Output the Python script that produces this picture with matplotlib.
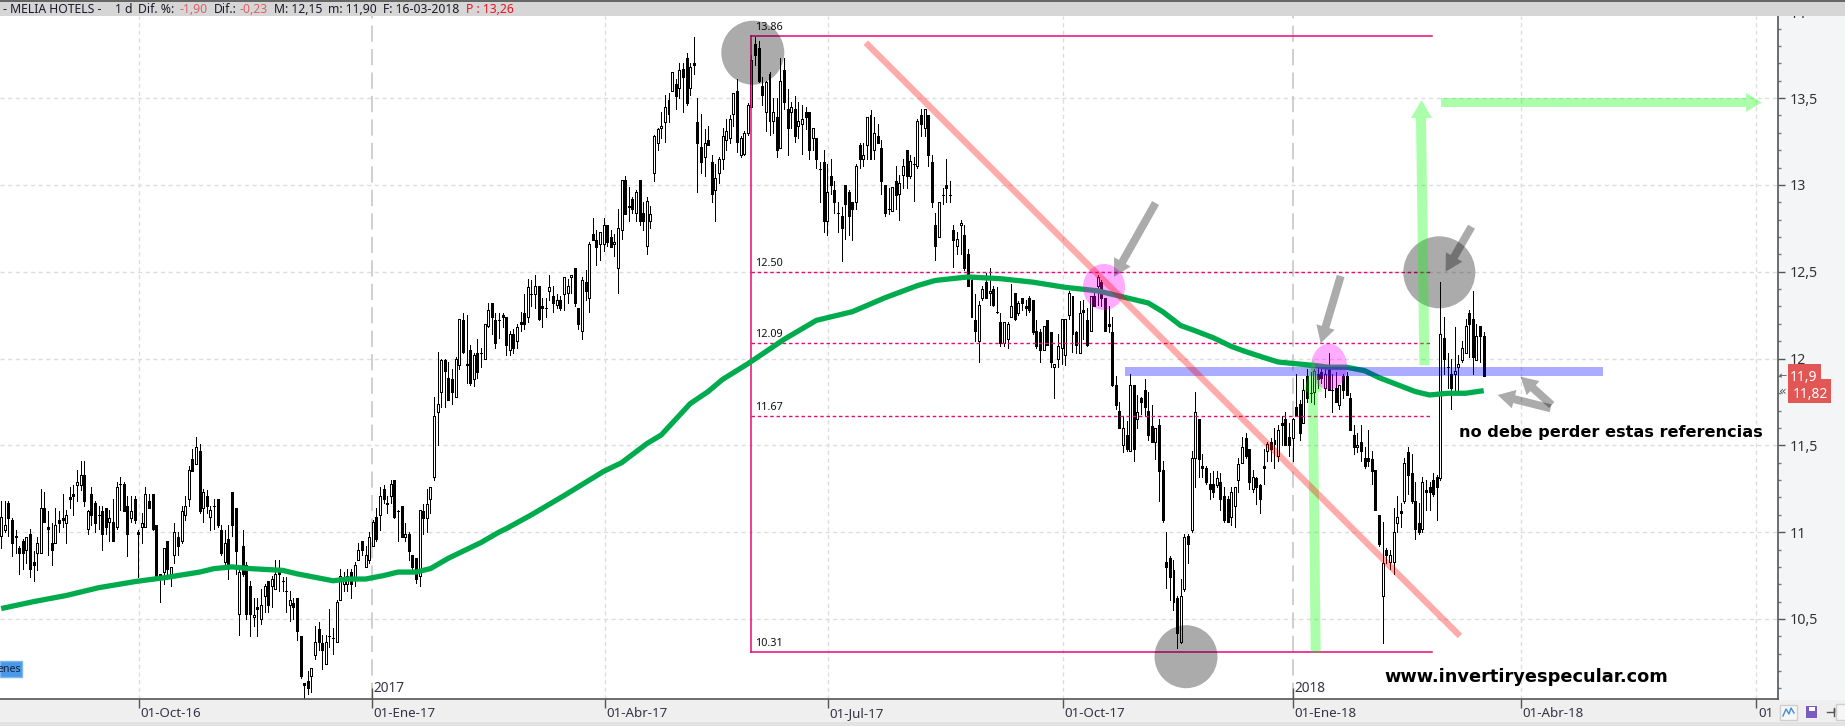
import numpy as np
import matplotlib
matplotlib.use('Agg')
import matplotlib.pyplot as plt
from matplotlib.patches import Rectangle, Ellipse, Polygon, FancyArrow
from matplotlib.transforms import ScaledTranslation

plt.rcParams['font.family'] = ['Noto Sans', 'DejaVu Sans']

# daily candles
highs = [11.18,11.18,11.18,11.08,11.01,10.92,10.96,10.97,11.02,10.89,
10.97,11.25,11.23,11.12,11.05,11.14,11.12,11.22,11.13,11.26,
11.27,11.36,11.41,11.41,11.13,11.26,11.18,11.15,11.15,11.14,
11.13,11.19,11.29,11.32,11.29,11.21,11.21,11.21,11.01,11.11,
11.26,11.22,11.22,11.04,10.76,10.91,10.95,10.80,11.05,11.00,
11.15,11.21,11.38,11.48,11.55,11.51,11.25,11.24,11.15,11.19,
11.19,11.04,11.01,11.04,11.23,11.14,10.78,11.01,10.83,10.72,
10.62,10.62,10.67,10.70,10.72,10.75,10.84,10.84,10.74,10.74,
10.66,10.62,10.62,10.40,10.13,10.20,10.22,10.46,10.48,10.41,
10.41,10.56,10.45,10.61,10.79,10.77,10.79,10.79,10.83,10.94,
10.95,10.92,11.00,11.07,11.14,11.26,11.27,11.21,11.30,11.30,
11.13,11.15,11.05,11.00,10.87,10.85,11.13,11.16,11.25,11.26,
11.78,12.04,12.00,12.00,11.98,11.94,12.01,12.23,12.26,12.25,
12.08,12.03,12.11,12.06,12.20,12.32,12.32,12.26,12.26,12.26,
12.24,12.16,12.17,12.20,12.27,12.37,12.46,12.45,12.48,12.42,
12.35,12.35,12.48,12.42,12.37,12.36,12.47,12.46,12.48,12.52,
12.29,12.47,12.51,12.67,12.81,12.74,12.73,12.81,12.77,12.74,
12.72,12.86,13.03,13.05,12.99,12.93,12.97,13.03,12.90,12.93,
12.88,13.29,13.33,13.42,13.52,13.53,13.65,13.61,13.70,13.70,
13.76,13.70,13.85,13.50,13.41,13.32,13.34,13.17,13.12,13.16,
13.33,13.38,13.40,13.53,13.61,13.28,13.31,13.47,
13.75,13.85,13.83,13.62,13.60,13.65,13.50,13.50,13.73,13.73,13.55,13.48,
13.51,13.48,13.46,13.45,13.42,13.33,13.27,13.13,13.20,13.12,
13.15,13.02,12.90,12.87,13.00,12.97,12.90,13.12,13.24,13.24,
13.39,13.43,13.39,13.35,13.26,13.00,12.98,12.99,13.11,13.06,
13.15,13.20,13.17,13.16,13.38,13.44,13.44,13.40,13.17,12.84,
12.90,12.98,13.15,13.02,12.77,12.73,12.80,12.77,12.63,12.46,
12.37,12.33,12.42,12.49,12.52,12.42,12.41,12.26,12.21,12.21,
12.43,12.38,12.33,12.35,12.34,12.36,12.34,12.22,12.17,12.19,
12.22,12.15,11.97,12.14,12.23,12.23,12.39,12.36,12.16,12.33,
12.34,12.29,12.36,12.38,12.48,12.45,12.35,12.30,12.24,11.90,
11.75,11.67,11.64,11.91,11.85,11.79,11.78,11.88,11.81,11.73,
11.60,11.65,11.41,11.00,10.86,10.84,10.63,10.73,10.99,10.99,
11.47,11.81,11.65,11.45,11.38,11.34,11.35,11.35,11.34,11.26,
11.21,11.26,11.26,11.43,11.55,11.57,11.48,11.36,11.32,11.28,
11.48,11.52,11.54,11.60,11.62,11.67,11.69,11.63,11.66,11.91,
11.76,11.88,11.94,11.92,11.94,11.95,11.95,11.95,12.03,11.91,
11.92,11.85,11.91,11.92,11.80,11.62,11.57,11.62,11.49,11.59,
11.47,11.36,11.10,11.06,10.91,10.90,11.14,11.21,11.17,11.43,
11.49,11.45,11.29,11.17,11.32,11.30,11.29,11.34,11.33,12.44,
12.24,12.03,12.00,12.18,12.02,12.10,12.23,12.28,12.39,12.20,12.19,12.15]

body_hi = [11.09,11.04,11.17,11.07,10.98,10.91,10.95,10.97,10.99,10.83,
10.94,11.14,11.14,11.03,10.94,11.04,11.07,11.08,11.10,11.20,
11.22,11.29,11.33,11.33,11.12,11.22,11.17,11.10,11.12,11.14,
11.08,11.06,11.26,11.28,11.28,11.15,11.12,11.19,11.00,11.05,
11.22,11.18,11.22,11.04,10.76,10.91,10.95,10.80,11.00,10.97,
11.12,11.15,11.36,11.42,11.49,11.47,11.23,11.21,11.13,11.15,
11.19,11.01,10.94,10.96,11.23,11.14,10.77,10.92,10.81,10.69,
10.52,10.57,10.58,10.69,10.72,10.73,10.76,10.77,10.72,10.66,
10.61,10.59,10.62,10.40,10.13,10.14,10.22,10.37,10.44,10.36,
10.37,10.40,10.39,10.60,10.75,10.72,10.75,10.77,10.81,10.90,
10.95,10.87,10.97,11.06,11.09,11.21,11.25,11.17,11.28,11.30,
11.12,11.15,10.99,10.99,10.87,10.85,11.13,11.12,11.16,11.26,
11.67,11.74,11.99,11.99,11.89,11.88,12.00,12.23,12.22,11.97,
12.05,12.02,12.03,12.03,12.20,12.28,12.32,12.22,12.22,12.25,
12.24,12.14,12.14,12.18,12.21,12.26,12.41,12.37,12.42,12.42,
12.30,12.29,12.41,12.36,12.34,12.34,12.47,12.42,12.48,12.52,
12.29,12.45,12.44,12.66,12.72,12.68,12.73,12.77,12.77,12.70,
12.67,12.75,13.03,13.03,12.88,12.92,12.96,13.03,12.84,12.91,
12.83,13.28,13.32,13.34,13.45,13.49,13.65,13.58,13.66,13.67,
13.73,13.68,13.70,13.36,13.22,13.24,13.26,13.13,13.04,13.15,
13.28,13.31,13.38,13.53,13.54,13.27,13.30,13.46,
13.72,13.81,13.79,13.57,13.59,13.64,13.42,13.39,13.60,13.66,13.44,13.45,
13.44,13.37,13.38,13.42,13.42,13.33,13.27,13.09,13.13,12.96,
13.05,12.97,12.84,12.82,13.00,12.96,12.90,13.11,13.23,13.17,
13.39,13.40,13.30,13.28,13.21,13.00,12.86,12.99,13.02,13.01,
13.11,13.20,13.14,13.12,13.37,13.40,13.44,13.40,13.13,12.77,
12.90,12.94,13.00,12.94,12.74,12.69,12.78,12.71,12.60,12.45,
12.22,12.31,12.40,12.44,12.39,12.40,12.27,12.21,12.21,12.20,
12.30,12.38,12.32,12.35,12.30,12.35,12.34,12.16,12.15,12.19,
12.22,12.15,11.97,12.07,12.23,12.23,12.38,12.36,12.15,12.26,
12.28,12.22,12.36,12.36,12.47,12.44,12.35,12.20,12.15,11.85,
11.70,11.60,11.56,11.85,11.85,11.69,11.77,11.82,11.70,11.61,
11.60,11.62,11.36,10.83,10.85,10.78,10.62,10.63,10.97,10.98,
11.43,11.69,11.65,11.38,11.37,11.28,11.28,11.31,11.29,11.21,
11.19,11.23,11.26,11.39,11.49,11.54,11.48,11.32,11.31,11.27,
11.38,11.51,11.52,11.53,11.59,11.63,11.65,11.55,11.65,11.72,
11.74,11.82,11.90,11.80,11.93,11.91,11.92,11.91,11.95,11.82,
11.83,11.85,11.90,11.90,11.77,11.56,11.50,11.52,11.43,11.43,
11.42,11.36,11.10,10.82,10.90,10.87,11.00,11.09,11.12,11.40,
11.46,11.34,11.18,11.05,11.29,11.24,11.26,11.30,11.32,12.14,
12.12,11.95,11.91,11.93,11.97,12.06,12.19,12.26,12.23,12.13,12.19,12.13]

body_lo = [10.98,11.01,11.08,10.94,10.97,10.88,10.88,10.90,10.79,10.81,
10.88,10.88,11.06,11.02,10.90,10.94,11.05,11.07,11.05,11.19,
11.21,11.27,11.27,11.18,11.02,11.10,11.05,11.10,10.99,11.03,
11.06,10.95,11.03,11.28,11.12,10.99,11.08,11.07,10.99,11.03,
11.03,11.14,11.02,10.75,10.75,10.77,10.79,10.76,10.87,10.92,
10.95,11.10,11.19,11.35,11.39,11.12,11.14,11.15,11.09,11.15,
11.04,10.88,10.83,10.81,11.04,10.89,10.53,10.76,10.53,10.53,
10.51,10.56,10.50,10.63,10.58,10.69,10.67,10.76,10.72,10.66,
10.58,10.57,10.43,10.17,10.12,10.10,10.17,10.29,10.37,10.32,
10.24,10.40,10.39,10.37,10.61,10.70,10.70,10.70,10.74,10.84,
10.90,10.80,10.84,10.92,10.96,11.10,11.19,11.16,11.21,11.09,
11.12,10.97,10.97,10.89,10.80,10.73,10.75,11.08,11.08,11.19,
11.32,11.69,11.81,11.93,11.76,11.81,11.78,11.96,12.04,11.96,
11.86,11.88,11.92,12.03,12.00,12.19,12.24,12.09,12.22,12.24,
12.08,12.05,12.06,12.10,12.20,12.20,12.24,12.37,12.37,12.23,
12.29,12.29,12.39,12.32,12.31,12.29,12.37,12.38,12.47,12.32,
12.20,12.16,12.39,12.35,12.68,12.64,12.66,12.66,12.67,12.64,
12.66,12.52,12.74,12.83,12.87,12.86,12.84,12.79,12.79,12.65,
12.79,13.07,13.24,13.33,13.36,13.41,13.54,13.51,13.56,13.62,
13.47,13.56,13.69,13.24,13.13,13.16,13.23,12.95,12.97,13.07,
13.15,13.26,13.27,13.41,13.25,13.17,13.18,13.30,
13.45,13.75,13.60,13.52,13.42,13.37,13.37,13.20,13.21,13.48,13.33,13.42,
13.28,13.34,13.35,13.39,13.20,13.27,13.15,13.09,12.79,12.79,
13.00,12.90,12.84,12.75,12.89,12.82,12.86,12.90,13.15,13.15,
13.23,13.15,13.20,13.24,13.02,12.84,12.86,12.85,12.94,12.95,
13.06,13.05,13.05,13.12,13.11,13.35,13.33,13.17,12.90,12.65,
12.70,12.94,12.98,12.94,12.68,12.65,12.77,12.52,12.42,12.24,
12.16,12.10,12.35,12.35,12.38,12.31,12.27,12.09,12.09,12.11,
12.24,12.23,12.26,12.32,12.29,12.28,12.15,12.07,12.05,12.05,
12.08,11.98,11.95,12.00,12.06,12.02,12.25,12.14,12.08,12.03,
12.27,12.08,12.16,12.30,12.42,12.35,12.16,12.19,11.85,11.73,
11.60,11.50,11.48,11.47,11.48,11.65,11.75,11.72,11.56,11.52,
11.52,11.35,11.07,10.80,10.74,10.60,10.42,10.37,10.67,10.93,
11.01,11.43,11.42,11.37,11.29,11.25,11.23,11.27,11.19,11.07,
11.06,11.09,11.15,11.30,11.40,11.44,11.29,11.25,11.26,11.19,
11.37,11.47,11.48,11.51,11.44,11.62,11.50,11.50,11.54,11.67,
11.57,11.63,11.77,11.80,11.81,11.88,11.89,11.83,11.82,11.82,
11.75,11.73,11.82,11.79,11.59,11.49,11.49,11.47,11.38,11.41,
11.35,11.13,10.93,10.63,10.87,10.83,10.83,11.05,11.11,11.18,
11.33,11.18,11.02,11.00,11.02,11.23,11.23,11.22,11.26,11.31,
12.00,11.95,11.83,11.91,11.95,11.99,12.03,12.20,12.01,11.99,12.13,11.90]

lows = [10.91,11.00,10.98,10.86,10.88,10.76,10.79,10.82,10.74,10.72,
10.78,10.88,11.06,10.87,10.81,10.94,11.00,11.03,10.94,11.14,
11.10,11.18,11.24,11.15,10.99,11.04,11.00,11.02,10.90,10.99,
10.95,10.95,11.02,11.13,11.12,10.86,11.06,11.05,10.74,10.94,
11.03,11.14,11.01,10.74,10.60,10.70,10.73,10.69,10.82,10.87,
10.94,11.07,11.15,11.35,11.39,11.11,11.06,11.11,11.01,11.02,
11.03,10.87,10.81,10.73,10.98,10.76,10.41,10.75,10.50,10.40,
10.46,10.40,10.47,10.54,10.54,10.57,10.67,10.66,10.66,10.54,
10.49,10.50,10.38,10.16,10.04,10.07,10.08,10.27,10.32,10.21,
10.24,10.34,10.30,10.37,10.61,10.66,10.66,10.62,10.69,10.84,
10.87,10.80,10.82,10.92,10.95,11.01,11.17,11.11,11.17,11.08,
10.95,10.97,10.95,10.84,10.79,10.71,10.69,10.99,11.00,11.11,
11.30,11.50,11.72,11.72,11.76,11.74,11.78,11.94,12.03,11.86,
11.85,11.84,11.89,11.95,12.00,12.18,12.14,12.06,12.12,12.18,
12.02,12.02,12.03,12.06,12.16,12.17,12.21,12.30,12.29,12.22,
12.18,12.24,12.34,12.27,12.29,12.28,12.28,12.32,12.38,12.30,
12.17,12.11,12.34,12.27,12.68,12.54,12.57,12.62,12.65,12.64,
12.59,12.38,12.69,12.83,12.79,12.84,12.79,12.77,12.74,12.60,
12.75,13.02,13.20,13.27,13.25,13.36,13.54,13.44,13.50,13.42,
13.46,13.52,13.64,12.96,13.07,13.05,13.23,12.90,12.79,13.01,
13.09,13.20,13.24,13.34,13.19,13.16,13.17,13.29,
13.45,13.69,13.59,13.46,13.31,13.29,13.30,13.16,13.21,13.44,13.17,13.33,
13.25,13.27,13.18,13.32,13.15,13.20,13.10,12.90,12.73,12.71,
12.95,12.84,12.73,12.56,12.69,12.71,12.68,12.86,13.10,13.11,
13.15,13.15,13.15,13.24,12.95,12.82,12.83,12.85,12.86,12.80,
12.98,12.98,13.04,12.91,13.10,13.28,13.28,13.11,12.87,12.57,
12.70,12.89,12.90,12.90,12.53,12.60,12.60,12.51,12.42,12.24,
12.10,11.98,12.34,12.35,12.31,12.30,12.26,12.07,12.07,12.06,
12.24,12.22,12.25,12.28,12.25,12.27,12.14,12.06,11.98,12.05,
12.08,11.95,11.77,11.95,11.97,11.96,12.23,12.04,12.03,12.03,
12.11,12.07,12.16,12.30,12.31,12.30,12.16,12.15,11.84,11.71,
11.60,11.46,11.47,11.47,11.41,11.60,11.68,11.67,11.53,11.52,
11.42,11.18,11.06,10.68,10.61,10.55,10.33,10.36,10.66,10.82,
11.00,11.26,11.32,11.32,11.28,11.19,11.20,11.26,11.13,11.06,
11.06,11.04,11.03,11.23,11.40,11.43,11.25,11.23,11.16,11.11,
11.28,11.41,11.41,11.37,11.41,11.50,11.50,11.44,11.41,11.67,
11.53,11.63,11.75,11.75,11.74,11.83,11.86,11.78,11.82,11.69,
11.75,11.71,11.77,11.79,11.59,11.45,11.46,11.41,11.37,11.38,
11.28,11.13,10.92,10.36,10.82,10.79,10.76,11.00,11.03,11.17,
11.22,11.17,10.96,10.99,11.00,11.13,11.13,11.21,11.07,11.30,
11.91,11.83,11.71,11.80,11.81,11.98,12.03,12.01,11.91,11.99,11.98,11.90]

# W = hollow (up day), K = black (down day)
day_type = ("WWKKWKKWKK" "WWKKKWKKWK" "KWWKWKKKKK" "WKWKKKWKKW" "WKKKKWKWWK"
            "WWWKWKWKWK" "KKWKKKWKKK" "WKWWKWWKKK" "WKKKKKWWKK" "WWKWWWWKWW"
            "KWWWKWKKWK" "KKWKKKWKWW" "WWWKKKWWKK" "KWKKWWKKKK" "KWKWKKWKWK"
            "KKWKWKWWWK" "KWKWKKWWKK" "WWWKWKWKKW" "WWWWWWWKWK" "KWKKKWKKWW"
            "WWWWKWWW" "WKKKWKWKWKKW" "KWWKKWKKKW" "KKKKKKKWKW" "WKWKKKKWKW"
            "WKWKWKWKKK" "WKKKKWWKKK" "KWWKWKKKWW" "WKWKKKKKKW" "KKWWWWWKKW"
            "KKWKWKKKKK" "KWKWKWKKKK" "WKKKKKKWWK" "WWKKKKKWKK" "KWWWWKKWKK"
            "KWKWWKKKWK" "KWKKWKKWKK" "KWKKKKWKKK" "KKKWKWWWKW" "KKKKWKKKKW"
            "KKKWWWWKKWKK")

# moving average, read at the bars listed
ma_bars = [1,10,19,28,38,47,56,60,65,70,79,83,88,93,97,102,107,111,116,120,125,130,134,139,
           141,148,157,168,173,180,184,188,192,197,201,208,218,227,237,246,255,260,269,278,
           287,296,305,311,319,323,328,332,337,342,346,351,355,360,365,369,374,379,383,388,
           393,397,402,407,412]
ma_values = [10.56,10.60,10.635,10.68,10.715,10.74,10.77,10.79,10.80,10.79,10.78,10.76,10.74,10.72,
             10.73,10.73,10.75,10.77,10.77,10.79,10.85,10.90,10.94,11.0,
             11.02,11.10,11.21,11.35,11.40,11.51,11.56,11.65,11.74,11.81,11.88,11.97,12.11,12.22,
             12.27,12.35,12.42,12.45,12.47,12.46,12.44,12.41,12.39,12.36,12.32,
             12.27,12.19,12.16,12.12,12.07,12.04,12.006,11.98,11.97,11.96,11.95,11.95,11.93,11.89,
             11.85,11.81,11.79,11.80,11.80,11.815]

fib_levels = [12.50, 12.09, 11.67]
fib_top = 13.86
fib_bottom = 10.31
fib_start = 208.9
fib_end = 397.7

x_tick_bars = [39.3, 103.7, 168.3, 230.3, 295.4, 359, 422.3, 487.6]
x_tick_labels = ['01-Oct-16', '01-Ene-17', '01-Abr-17', '01-Jul-17', '01-Oct-17', '01-Ene-18', '01-Abr-18', '01']
year_bars = [103.7, 359]
year_labels = ['2017', '2018']
y_major = [10.5, 11, 11.5, 12, 12.5, 13, 13.5]

W, H = 1845, 726
fig = plt.figure(figsize=(W/100, H/100), dpi=100)

# window furniture behind the chart
bg = fig.add_axes([0, 0, 1, 1], zorder=0)
bg.set_xlim(0, W)
bg.set_ylim(H, 0)
bg.axis('off')
bg.add_patch(Rectangle((0, 0), W, H, fc='#efefef', lw=0))
bg.add_patch(Rectangle((1778, 16), W-1778, 684, fc='#f4f5f7', lw=0))
bg.add_patch(Rectangle((0, 722), W, 4, fc='#e2e2e2', lw=0))

ax = fig.add_axes([0, 27/H, 1778.4/W, 683/H], zorder=1)
ax.set_facecolor('white')

idx = np.arange(1, len(highs)+1)
hi = np.array(highs)
lo = np.array(lows)
top = np.array(body_hi)
bot = np.array(body_lo)
hollow = np.array([c == 'W' for c in day_type])

# grid
for y in y_major:
    ax.axhline(y, color='#dddddd', lw=1, dashes=(3, 2.5), zorder=1)
for x in x_tick_bars:
    if x in year_bars:
        ax.axvline(x, color='#cccccc', lw=1.3, dashes=(9, 4), zorder=1)
    else:
        ax.axvline(x, color='#dddddd', lw=1, dashes=(3, 2.5), zorder=1)

ax.vlines(idx, lo, hi, color='black', lw=0.7, zorder=2, antialiased=False)
ax.bar(idx[~hollow], (top-bot)[~hollow], bottom=bot[~hollow], width=0.55, color='black',
       edgecolor='black', lw=0.5, zorder=3, antialiased=False)
ax.bar(idx[hollow], (top-bot)[hollow], bottom=bot[hollow], width=0.55, color='white',
       edgecolor='black', lw=0.5, zorder=3, antialiased=False)

# fibonacci box
pink = '#e8087c'
ax.plot([fib_start, fib_start], [fib_bottom, fib_top], color=pink, lw=1.1, zorder=4)
ax.plot([fib_start, fib_end], [fib_top, fib_top], color=pink, lw=1.1, zorder=4)
ax.plot([fib_start, fib_end], [fib_bottom, fib_bottom], color=pink, lw=1.1, zorder=4)
for lv in fib_levels:
    ax.plot([fib_start, fib_end], [lv, lv], color=pink, lw=1, dashes=(2.5, 2), zorder=4)
for lv in [fib_top] + fib_levels + [fib_bottom]:
    ax.annotate('%.2f' % lv, (fib_start, lv), xytext=(3, 2), textcoords='offset points',
                fontsize=7.8, color='#111111', va='bottom', zorder=6)

ax.plot(ma_bars, ma_values, color='#00ab4e', lw=3.8, zorder=5, solid_capstyle='butt')

# axes
for s in ['top', 'left']:
    ax.spines[s].set_visible(False)
for s in ['bottom', 'right']:
    ax.spines[s].set_color('#555555')
    ax.spines[s].set_linewidth(1.2)
ax.yaxis.tick_right()
ax.set_yticks(y_major)
ax.set_yticklabels([('%g' % v).replace('.', ',') for v in y_major], fontsize=10.2, color='#333333')
ax.set_yticks(np.arange(10.1, 14.0, 0.1), minor=True)
ax.tick_params(axis='y', which='major', length=5, width=1, color='#555555', pad=3)
ax.tick_params(axis='y', which='minor', length=2.2, width=1, color='#777777')
ax.set_xticks(x_tick_bars)
ax.set_xticklabels(x_tick_labels, fontsize=9.6, color='#333344', ha='left')
ax.tick_params(axis='x', length=6.5, width=1, color='#555555', pad=-0.5)
for t in ax.get_xticklabels():
    t.set_transform(t.get_transform() + ScaledTranslation(1.5/100, 0, fig.dpi_scale_trans))
ax.set_xlim(0.667, 493.7)
ax.set_ylim(10.039, 13.973)
# 14 sits mostly under the top bar
ax.annotate('14', (1, 14), xycoords=('axes fraction', 'data'), xytext=(8, -2.5), textcoords='offset points',
            fontsize=10.2, color='#333333', va='center', annotation_clip=False)
for x, s in zip(year_bars, year_labels):
    ax.vlines(x, 10.039, 10.10, color='#555555', lw=1, zorder=6)
    ax.annotate(s, (x, 10.10), xytext=(1.5, 0), textcoords='offset points', fontsize=9.8,
                color='#333344', va='center', zorder=6, annotation_clip=False)

# hand drawn marks and window bars, in screen pixels
ov = fig.add_axes([0, 0, 1, 1], zorder=2)
ov.set_xlim(0, W)
ov.set_ylim(H, 0)
ov.axis('off')
ov.patch.set_alpha(0)

A = 0.33
for cx, cy, w, h in [(752.8, 52.7, 63, 64), (1186, 656.7, 63, 63), (1439.3, 272.3, 72, 72)]:
    ov.add_patch(Ellipse((cx, cy), w, h, fc='black', alpha=A, lw=0))
for cx, cy, w, h in [(1104, 287, 42, 46), (1329, 366.7, 36, 46)]:
    ov.add_patch(Ellipse((cx, cy), w, h, fc='#ff00ff', alpha=A, lw=0))
ov.plot([865.8, 1460], [42.7, 636], color='#ff0000', alpha=A, lw=4.6, solid_capstyle='butt')
ov.add_patch(Rectangle((1125.3, 366.7), 477.4, 9, fc='#0000ff', alpha=A, lw=0))
for pts in [[(1310.7, 652.7), (1320.7, 652.7), (1317.7, 391.7), (1322.5, 391.7), (1313, 358),
             (1304, 391.7), (1308, 391.7)],
            [(1419.4, 365.3), (1429.4, 365.3), (1426, 118), (1432, 118), (1421.5, 100), (1411, 118), (1416, 118)],
            [(1441, 98), (1746, 98), (1746, 93), (1762, 102.5), (1746, 112), (1746, 107), (1441, 107)]]:
    ov.add_patch(Polygon(pts, fc='#00ff00', alpha=A, lw=0))
for x0, y0, x1, y1 in [(1155.6, 203, 1114, 276.7), (1340.7, 276, 1320.7, 343.3), (1471.5, 226.7, 1445.6, 271.7),
                       (1551.7, 405, 1520.5, 376.7), (1550.6, 408.3, 1497.7, 395)]:
    ov.add_patch(FancyArrow(x0, y0, x1-x0, y1-y0, width=8, head_width=19, head_length=17,
                            length_includes_head=True, fc='black', alpha=A, lw=0))

ov.text(1458.8, 432.3, 'no debe perder estas referencias', fontsize=11.6, fontweight='bold',
        family='DejaVu Sans', color='black', va='center')
ov.text(1384, 677, 'www.invertiryespecular.com', fontsize=12.8, fontweight='bold',
        family='DejaVu Sans', color='black', va='center')

# top bar
ov.add_patch(Rectangle((0, 0), W, 16, fc='#d6d6d6', lw=0))
ov.add_patch(Rectangle((0, 0), W, 1.5, fc='#666666', lw=0))
dark = '#1a1a2a'
for x, s, c in [(3, '- MELIA HOTELS -', dark), (115, '1 d', dark), (138, 'Dif. %:', dark), (180, '-1,90', '#e06060'),
                (213.4, 'Dif.:', dark), (239.5, '-0,23', '#e06060'), (273.5, 'M: 12,15', dark),
                (328, 'm: 11,90', dark), (382.6, 'F: 16-03-2018', dark), (466.4, 'P : 13,26', '#ee1122')]:
    ov.text(x, 9.7, s, fontsize=8.8, color=c, va='center')

# price tags
red = '#e25656'
ov.add_patch(Rectangle((1787.8, 364), 32.8, 21, fc=red, lw=0))
ov.add_patch(Rectangle((1787.8, 379.3), 43.6, 24, fc=red, lw=0))
ov.text(1790, 377.5, '11,9', fontsize=10, color='white', va='center')
ov.text(1793, 394, '11,82', fontsize=10, color='white', va='center')
ov.text(1779, 376.5, '←', fontsize=7, color='#555555', va='center', family='DejaVu Sans')
ov.text(1779, 391.5, '«', fontsize=9, color='#555555', va='center', family='DejaVu Sans')

# blue tab at lower left
ov.add_patch(Rectangle((0, 661), 21.5, 15.5, fc='#4a98e8', ec='#7fb8f0', lw=1))
ov.text(20.5, 669, 'enes', fontsize=7.6, color='#12233a', va='center', ha='right')

# small toolbar icons
ov.add_patch(Rectangle((1780, 705), 17, 15, fc='#f6f6f6', ec='#cfcfcf', lw=1))
ov.plot([1783, 1786, 1789, 1791, 1794], [716, 709, 714, 708, 713], color='#3f8fd8', lw=1)
ov.add_patch(Rectangle((1806, 706), 11, 12, fc='#7a5cc0', lw=0))
ov.add_patch(Rectangle((1808.5, 707), 6, 4, fc='white', lw=0))
ov.plot([1827, 1834, 1834, 1834], [712, 712, 708, 716], color='#555555', lw=1)
ov.add_patch(Rectangle((1836, 704), 10, 16, fc='#f6f6f6', ec='#cfcfcf', lw=1))

fig.savefig('out.png', dpi=100)
